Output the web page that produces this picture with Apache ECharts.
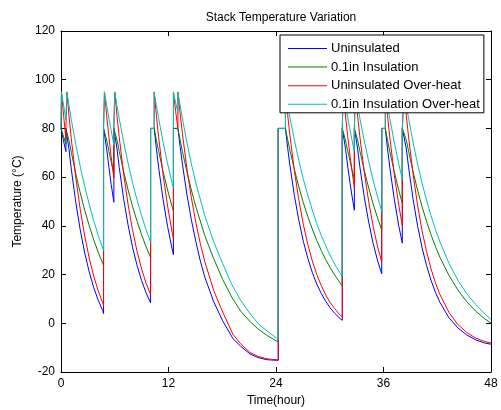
<!DOCTYPE html>
<html>
<head>
<meta charset="utf-8">
<script src="https://cdn.jsdelivr.net/npm/echarts@6/dist/echarts.min.js"></script>
<style>
  html, body { margin: 0; padding: 0; background: #fff; }
  #chart { width: 501px; height: 410px; }
</style>
</head>
<body>
<div id="chart"></div>
<script>
// values: [hour, temperature °C]
const seriesNames = ["Uninsulated", "0.1in Insulation", "Uninsulated Over-heat", "0.1in Insulation Over-heat"];
const xTicks = [0, 12, 24, 36, 48];
const yTicks = [-20, 0, 20, 40, 60, 80, 100, 120];

const uninsulated = [
  [0,80],[0.05,80],[0.3,74.5],[0.55,70.5],[0.55,80],[0.65,80],[0.9,71.2],[1.15,63.3],[1.65,49.6],[2.15,38.3],[2.65,28.8],[3.15,21.1],[3.65,14.7],[4.15,9.5],[4.65,5.2],[4.75,4.0],
  [4.75,80],[4.85,80],[5.1,71.6],[5.35,64.0],[5.6,57.1],[5.9,49.7],[5.9,80],[6.0,80],[6.25,71.6],[6.5,64.0],[7.0,50.9],[7.5,40.1],[8.0,31.0],[8.5,23.6],[9.0,17.5],[9.5,12.5],[10.0,8.4],
  [10.0,80],[10.4,80],[10.65,71.5],[10.9,63.9],[11.4,50.7],[11.9,39.7],[12.4,30.6],[12.55,28.2],[12.55,80],[13.05,80],[13.3,72.5],[13.55,65.5],[14.05,53.0],[14.55,42.5],[15.05,33.6],[15.55,25.6],[16.05,19.0],[17.05,8.8],[18.05,1.0],[19.2,-6.3],[20.05,-9.4],[21.1,-12.6],[22.0,-14.1],[22.9,-14.9],[23.5,-15.1],[24.25,-15.2],
  [24.25,80],[25.05,80],[25.3,72.1],[25.55,64.9],[26.05,52.5],[26.55,42.2],[27.05,33.7],[27.55,26.7],[28.05,20.9],[28.55,16.1],[29.05,12.3],[29.55,9.0],[30.05,6.3],[30.55,4.1],[31.05,2.3],[31.4,1.2],
  [31.4,80],[31.5,80],[31.75,71.9],[32.0,64.6],[32.25,57.9],[32.5,51.9],[32.75,46.4],[32.75,80],[32.85,80],[33.1,71.9],[33.35,64.6],[33.85,51.9],[34.35,41.5],[34.85,32.7],[35.35,25.6],[35.8,20.3],
  [35.8,80],[36.2,80],[36.45,71.6],[36.7,64.1],[37.2,51.0],[37.7,40.1],[38.1,32.9],[38.1,80],[38.3,80],[38.55,71.6],[38.8,64.1],[39.3,51.0],[39.8,40.1],[40.3,31.1],[40.8,23.8],[41.3,17.7],[41.8,12.7],[42.3,8.6],[43.3,2.3],[44.3,-1.9],[45.3,-4.8],[46.3,-6.8],[47.3,-8.1],[48,-8.6]
];

const insulated = [
  [0,80],[0.05,80],[0.3,76.5],[0.55,73.5],[0.55,80],[0.65,80],[0.9,74.9],[1.15,70.2],[1.65,61.4],[2.15,53.5],[2.65,46.4],[3.15,40.1],[3.65,34.3],[4.15,29.2],[4.75,23.8],
  [4.75,80],[4.85,80],[5.1,75.2],[5.35,70.6],[5.6,66.3],[5.9,61.4],[5.9,80],[6.0,80],[6.25,75.2],[6.5,70.6],[7.0,62.2],[7.5,54.6],[8.0,47.8],[8.5,41.8],[9.0,36.3],[9.5,31.4],[10.0,27.0],
  [10.0,80],[10.4,80],[10.65,75.2],[10.9,70.6],[11.4,62.3],[11.9,54.7],[12.4,47.9],[12.55,46.1],[12.55,80],[13.05,80],[13.3,75.2],[13.55,70.6],[14.05,62.3],[14.55,54.7],[15.05,47.9],[16.05,36.0],[17.05,26.5],[18.05,18.0],[19.05,10.8],[20.05,5.0],[21.05,0.9],[22.05,-2.5],[23.05,-5.1],[24.25,-7.7],
  [24.25,80],[25.05,80],[25.3,75.4],[25.55,71.1],[26.05,63.2],[26.55,56.0],[27.05,49.5],[27.55,43.8],[28.05,38.7],[28.55,34.0],[29.05,29.9],[29.55,26.1],[30.05,22.8],[30.55,19.8],[31.05,17.1],[31.4,15.3],
  [31.4,80],[31.5,80],[31.75,75.3],[32.0,70.9],[32.25,66.8],[32.5,62.8],[32.75,59.1],[32.75,80],[32.85,80],[33.1,75.3],[33.35,70.9],[33.85,62.8],[34.35,55.5],[34.85,48.9],[35.35,43.1],[35.8,38.3],
  [35.8,80],[36.2,80],[36.45,75.2],[36.7,70.6],[37.2,62.3],[37.7,54.7],[38.1,49.2],[38.1,80],[38.3,80],[38.55,75.2],[38.8,70.6],[39.3,62.3],[39.8,54.7],[40.3,47.9],[40.8,41.9],[41.3,36.4],[41.8,31.5],[42.3,27.1],[43.3,19.7],[44.3,13.7],[45.3,8.8],[46.3,5.0],[47.3,1.8],[48,0.1]
];

const uninsulatedOverheat = [
  [0,80],[0.05,80],[0.05,95],[0.3,84.9],[0.55,75.7],[0.55,80],[0.65,80],[0.65,95],[0.9,84.9],[1.15,75.7],[1.65,59.8],[2.15,46.7],[2.65,35.8],[3.15,26.8],[3.65,19.4],[4.15,13.4],[4.65,8.4],[4.75,7.3],
  [4.75,80],[4.85,80],[4.85,95],[5.1,85.2],[5.35,76.4],[5.6,68.3],[5.9,59.7],[5.9,80],[6.0,80],[6.0,95],[6.25,85.2],[6.5,76.4],[7.0,61.1],[7.5,48.5],[8.0,38.0],[8.5,29.4],[9.0,22.3],[9.5,16.4],[10.0,11.8],
  [10.0,80],[10.4,80],[10.4,95],[10.65,85.2],[10.9,76.3],[11.4,60.9],[11.9,48.1],[12.4,37.5],[12.55,34.8],[12.55,95],[12.8,87.0],[13.05,80],[13.05,95],[13.3,86.0],[13.55,78.0],[14.05,63.6],[14.55,51.6],[15.05,41.4],[15.55,32.7],[16.05,25.3],[17.05,13.4],[18.05,4.6],[19.2,-4.6],[20.05,-8.4],[21.1,-12.0],[22.0,-13.6],[22.9,-14.5],[23.5,-14.8],[24.25,-15.0],
  [24.25,80],[25.05,80],[25.05,95],[25.3,85.7],[25.55,77.3],[26.05,62.7],[26.55,50.6],[27.05,40.6],[27.55,32.4],[28.05,25.6],[28.55,20.0],[29.05,15.5],[29.55,11.6],[30.05,8.5],[30.55,6.0],[31.05,3.8],[31.4,2.6],
  [31.4,80],[31.5,80],[31.5,95],[31.75,85.5],[32.0,77.0],[32.25,69.1],[32.5,62.1],[32.75,55.7],[32.75,80],[32.85,80],[32.85,95],[33.1,85.5],[33.35,77.0],[33.85,62.1],[34.35,49.9],[34.85,39.7],[35.35,31.3],[35.8,25.2],
  [35.8,80],[36.2,80],[36.2,95],[36.45,85.2],[36.7,76.5],[37.2,61.2],[37.7,48.6],[38.1,40.1],[38.1,80],[38.3,80],[38.3,95],[38.55,85.2],[38.8,76.5],[39.3,61.2],[39.8,48.6],[40.3,38.1],[40.8,29.5],[41.3,22.4],[41.8,16.6],[42.3,11.8],[43.3,4.5],[44.3,-0.5],[45.3,-3.8],[46.3,-6.1],[47.3,-7.5],[48,-8.1]
];

const insulatedOverheat = [
  [0,80],[0.05,80],[0.05,95],[0.3,89.2],[0.55,83.6],[0.65,95],[0.9,89.2],[1.15,83.6],[1.65,73.5],[2.15,64.3],[2.65,56.1],[3.15,48.8],[3.65,42.2],[4.15,36.2],[4.75,29.9],
  [4.75,80],[4.85,80],[4.85,95],[5.1,89.4],[5.35,84.1],[5.6,79.1],[5.9,73.3],[5.9,80],[6.0,80],[6.0,95],[6.25,89.4],[6.5,84.1],[7.0,74.3],[7.5,65.5],[8.0,57.5],[8.5,50.5],[9.0,44.1],[9.5,38.4],[10.0,33.3],
  [10.0,80],[10.4,80],[10.4,95],[10.65,89.4],[10.9,84.1],[11.4,74.3],[11.9,65.5],[12.4,57.6],[12.55,55.5],[12.55,95],[12.8,90.5],[13.05,86.5],[13.05,95],[13.3,89.4],[13.55,84.1],[14.05,74.3],[14.55,65.5],[15.05,57.6],[16.05,44.2],[17.05,33.4],[18.05,24.5],[19.05,16.0],[20.05,9.5],[21.05,4.2],[22.05,-0.3],[23.05,-3.3],[24.25,-6.6],
  [24.25,80],[25.05,80],[25.05,95],[25.3,89.6],[25.55,84.6],[26.05,75.2],[26.55,66.8],[27.05,59.2],[27.55,52.6],[28.05,46.5],[28.55,41.0],[29.05,36.1],[29.55,31.8],[30.05,27.8],[30.55,24.3],[31.05,21.2],[31.4,19.3],
  [31.4,80],[31.5,80],[31.5,95],[31.75,89.5],[32.0,84.4],[32.25,79.6],[32.5,74.9],[32.75,70.5],[32.75,80],[32.85,80],[32.85,95],[33.1,89.5],[33.35,84.4],[33.85,74.9],[34.35,66.4],[34.85,58.6],[35.35,51.8],[35.8,45.9],
  [35.8,80],[36.2,80],[36.2,95],[36.45,89.4],[36.7,84.1],[37.2,74.3],[37.7,65.5],[38.1,59.2],[38.1,80],[38.3,80],[38.3,95],[38.55,89.4],[38.8,84.1],[39.3,74.3],[39.8,65.5],[40.3,57.6],[40.8,50.6],[41.3,44.2],[41.8,38.5],[42.3,33.4],[43.3,24.7],[44.3,17.7],[45.3,12.1],[46.3,7.7],[47.3,3.9],[48,1.6]
];

const seriesData = [uninsulated, insulated, uninsulatedOverheat, insulatedOverheat];
const seriesColors = ["#0000ff", "#008000", "#ff0000", "#00bfbf"];

const chart = echarts.init(document.getElementById("chart"), null, { renderer: "canvas" });
const font = "Liberation Sans, Arial, sans-serif";

const axisCommon = {
  axisLine: { show: true, onZero: false, lineStyle: { color: "#000", width: 1 } },
  axisTick: { show: true, inside: true, length: 5, lineStyle: { color: "#000" } },
  splitLine: { show: false }
};

const option = {
  animation: false,
  backgroundColor: "#fff",
  title: {
    text: "Stack Temperature Variation",
    left: 276,
    top: 7,
    textAlign: "center",
    textStyle: { fontFamily: font, fontSize: 12, fontWeight: "normal", color: "#000" }
  },
  legend: {
    data: seriesNames,
    orient: "vertical",
    left: 280,
    top: 35,
    padding: [6, 4, 1, 8],
    icon: "rect",
    itemWidth: 39,
    itemHeight: 1,
    itemGap: 3.6,
    backgroundColor: "#fff",
    borderColor: "#000",
    borderWidth: 1,
    z: 10,
    textStyle: { fontFamily: font, fontSize: 13, lineHeight: 15, color: "#000", padding: [0, 0, 0, -1] }
  },
  grid: { left: 61, right: 10, top: 31, bottom: 38, outerBoundsMode: "none", containLabel: false },
  xAxis: [
    Object.assign({
      type: "value", min: 0, max: 48, interval: 12, position: "bottom",
      name: "Time(hour)", nameLocation: "middle", nameGap: 19,
      nameTextStyle: { fontFamily: font, fontSize: 12, color: "#000" },
      axisLabel: { fontFamily: font, fontSize: 12, color: "#000", margin: 6,
        formatter: v => xTicks.includes(v) ? String(v) : "" }
    }, axisCommon),
    Object.assign({
      type: "value", min: 0, max: 48, interval: 12, position: "top",
      axisLabel: { show: false }
    }, axisCommon)
  ],
  yAxis: [
    Object.assign({
      type: "value", min: -20, max: 120, interval: 20, position: "left",
      name: "Temperature (\u00b0C)", nameLocation: "middle", nameGap: 26,
      nameTextStyle: { fontFamily: font, fontSize: 12, color: "#000" },
      axisLabel: { fontFamily: font, fontSize: 12, color: "#000", margin: 6,
        formatter: v => yTicks.includes(v) ? String(v) : "" }
    }, axisCommon),
    Object.assign({
      type: "value", min: -20, max: 120, interval: 20, position: "right",
      axisLabel: { show: false }
    }, axisCommon)
  ],
  series: seriesNames.map((name, i) => ({
    name: name,
    type: "line",
    data: seriesData[i],
    symbol: "none",
    color: seriesColors[i],
    lineStyle: { width: 1, color: seriesColors[i] },
    clip: true,
    z: 2 + i
  }))
};

chart.setOption(option);
</script>
</body>
</html>
